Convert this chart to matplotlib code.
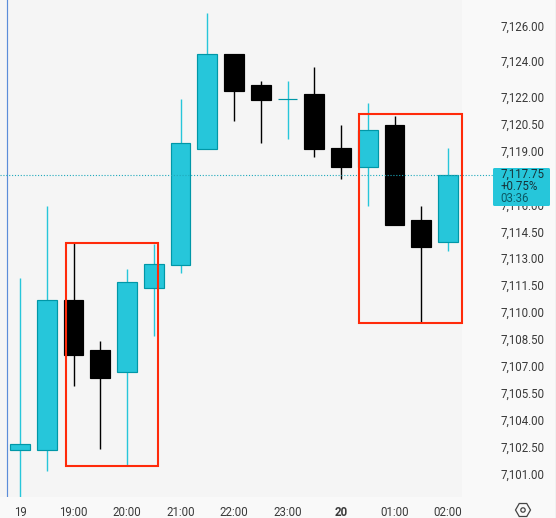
"""Candlestick chart with two red annotation boxes and a last-price badge."""

import matplotlib
matplotlib.use("Agg")
import matplotlib.pyplot as plt
from matplotlib.patches import Rectangle, RegularPolygon, Circle, FancyBboxPatch
from matplotlib.transforms import ScaledTranslation

plt.rcParams["font.family"] = ["Roboto", "DejaVu Sans"]

# 30 minute candles, oldest first
opens = [7102.41, 7102.41, 7110.78, 7107.99, 7106.76, 7111.45, 7112.74, 7119.21, 7124.51,
         7122.78, 7122.00, 7122.28, 7119.26, 7118.23, 7120.55, 7115.25, 7114.02]
closes = [7102.75, 7110.78, 7107.71, 7106.43, 7111.79, 7112.79, 7119.54, 7124.51, 7122.45,
          7121.94, 7122.00, 7119.21, 7118.23, 7120.27, 7114.97, 7113.74, 7117.75]
highs = [7112.01, 7116.03, 7113.96, 7108.49, 7112.51, 7113.91, 7122.00, 7126.80, 7124.51,
         7123.00, 7123.00, 7123.78, 7120.55, 7121.78, 7121.05, 7116.03, 7119.26]
lows = [7099.79, 7101.24, 7105.98, 7102.47, 7101.52, 7108.77, 7112.29, 7119.21, 7120.77,
        7119.54, 7119.77, 7118.76, 7117.53, 7116.03, 7114.97, 7109.50, 7113.52]

price_ticks = [7126, 7124, 7122, 7120.5, 7119, 7116, 7114.5, 7113, 7111.5, 7110, 7108.5,
               7107, 7105.5, 7104, 7102.5, 7101]
time_ticks = [0, 2, 4, 6, 8, 10, 12, 14, 16]
time_labels = ["19", "19:00", "20:00", "21:00", "22:00", "23:00", "20", "01:00", "02:00"]

last_price = 7117.75
badge_lines = ["7,117.75", "+0.75%", "03:36"]

# annotation boxes: candle index left/right, price bottom/top
box_left = (1.72, 5.16, 7101.52, 7113.96)
box_right = (12.67, 16.52, 7109.50, 7121.16)

CYAN = "#26C6DA"
CYAN_EDGE = "#0097A7"
RED = "#FF2A0A"
TEXT = "#3A3A3A"

W, H = 556, 518
fig = plt.figure(figsize=(W / 100, H / 100), dpi=100, facecolor="#F9F9F9")
ax = fig.add_axes([0, 21 / H, 462 / W, 497 / H], facecolor="#F5F5F5")

PX_PER_CANDLE = 26.75
PX_PER_POINT = 17.92
ax.set_xlim(-20 / PX_PER_CANDLE, (462 - 20) / PX_PER_CANDLE)
ax.set_ylim(7126 - (497 - 27.3) / PX_PER_POINT, 7126 + 27.3 / PX_PER_POINT)

# candles
for i, (o, c, h, l) in enumerate(zip(opens, closes, highs, lows)):
    up = c >= o
    wick = CYAN if up else "black"
    ax.plot([i, i], [l, h], color=wick, lw=1.0, solid_capstyle="butt", zorder=2)
    ax.bar(i, abs(c - o), bottom=min(o, c), width=0.73, zorder=3,
           color=CYAN if up else "black", edgecolor=CYAN_EDGE if up else "black", linewidth=0.85)

# left edge marker line
ax.axvline(-13 / PX_PER_CANDLE, color="#5B8DD9", lw=0.85, zorder=1)

# last price line runs over the price scale up to the badge
ax.plot([ax.get_xlim()[0], (493 - 20) / PX_PER_CANDLE], [last_price, last_price], clip_on=False,
        color="#1FA9BB", lw=0.8, ls=(0, (1, 1.6)), zorder=4)

# red annotation boxes
for x0, x1, y0, y1 in (box_left, box_right):
    ax.add_patch(Rectangle((x0, y0), x1 - x0, y1 - y0, fill=False, edgecolor=RED, lw=1.5,
                           clip_on=False, zorder=5))

for s in ax.spines.values():
    s.set_visible(False)
ax.yaxis.tick_right()
ax.set_yticks(price_ticks, [f"{p:,.2f}" for p in price_ticks])
ax.set_xticks(time_ticks, time_labels)
ax.tick_params(axis="y", length=0, pad=27.5, labelsize=8.3, labelcolor=TEXT)
ax.tick_params(axis="x", length=0, pad=6.3, labelsize=8.3, labelcolor=TEXT)
for lab in ax.get_xticklabels():
    if lab.get_text() == "20":
        lab.set_fontweight("bold")
shift = ScaledTranslation(0, 2 / 100, fig.dpi_scale_trans)
for lab in ax.get_yticklabels():
    lab.set_transform(lab.get_transform() + shift)

# overlay in pixel coordinates: price badge and settings icon
over = fig.add_axes([0, 0, 1, 1], facecolor="none")
over.set_xlim(0, W)
over.set_ylim(H, 0)
over.axis("off")
over.add_patch(FancyBboxPatch((494, 169), 55, 36, boxstyle="round,pad=1,rounding_size=1.5",
                              facecolor=CYAN, edgecolor="none"))
for y, txt, col in zip((174.5, 186.5, 198), badge_lines, ("#17333A", "#17333A", "#0B5A66")):
    over.text(500.5, y, txt, fontsize=8.3, color=col, ha="left", va="center")

over.add_patch(RegularPolygon((523, 510), 6, radius=7.5, orientation=0.5236, fill=False,
                              edgecolor="#444444", lw=0.9))
over.add_patch(Circle((523, 510), 2.2, fill=False, edgecolor="#444444", lw=0.9))

# slightly darker sliver at the far right of the frame
over.add_patch(Rectangle((554.5, 0), 1.5, H, facecolor="#F1F1F1", edgecolor="none"))

fig.savefig("out.png", dpi=100, facecolor=fig.get_facecolor())
